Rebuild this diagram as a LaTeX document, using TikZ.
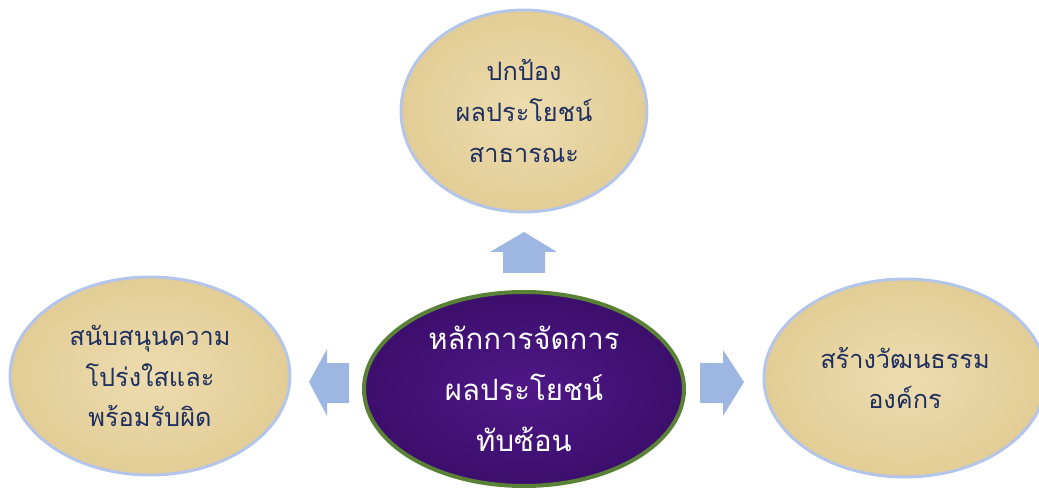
\documentclass[tikz,border=0pt]{standalone}
\usepackage{fontspec}
\newfontfamily\thaifont[Script=Thai]{Loma}
\usetikzlibrary{shapes.geometric}
\definecolor{parch}{HTML}{E3CD96}
\definecolor{parchlight}{HTML}{EDDCAF}
\definecolor{rimblue}{HTML}{B4C5EA}
\definecolor{navy}{HTML}{1F3060}
\definecolor{purp}{HTML}{4E1887}
\definecolor{purpdark}{HTML}{3C0E6C}
\definecolor{rimgreen}{HTML}{5A8236}
\definecolor{arrowblue}{HTML}{9DB7E2}
\tikzset{
  side/.style={ellipse, draw=rimblue, line width=2.2pt, inner color=parchlight, outer color=parch,
    text=navy, align=center, font=\thaifont\fontsize{19}{30.5}\selectfont, inner sep=0pt},
  hub/.style={ellipse, draw=rimgreen, line width=3pt, inner color=purp, outer color=purpdark,
    text=white, align=center, font=\thaifont\fontsize{22}{38}\selectfont, inner sep=0pt},
  blk/.style={fill=arrowblue, draw=none}
}
\begin{document}
\begin{tikzpicture}[x=0.75pt,y=-0.75pt]
\useasboundingbox (0,0) rectangle (1039,488);
\begin{scope}
\clip (0,0) rectangle (1039,488);
\node[side, minimum width=246*0.75pt, minimum height=202*0.75pt] (top) at (524,111) {ปกป้อง\\ผลประโยชน์\\สาธารณะ};
\node[side, minimum width=280*0.75pt, minimum height=198*0.75pt] (left) at (150,376) {สนับสนุนความ\\โปร่งใสและ\\พร้อมรับผิด};
\node[side, minimum width=282*0.75pt, minimum height=198*0.75pt] (right) at (905,378) {สร้างวัฒนธรรม\\องค์กร};
\node[hub, minimum width=320*0.75pt, minimum height=194*0.75pt] (hub) at (524,389) {หลักการจัดการ\\ผลประโยชน์\\ทับซ้อน};
\end{scope}
% block arrows
\coordinate (up) at (524,273);
\fill[blk] (up) ++(-21,0) -- ++(0,-21) -- ++(-13,0) -- ++(34,-20) -- ++(33,20) -- ++(-12,0) -- ++(0,21) -- cycle;
\coordinate (lf) at (349,383);
\fill[blk] (lf) ++(0,-20) -- ++(-22,0) -- ++(0,-14) -- ++(-18,33) -- ++(18,34) -- ++(0,-13) -- ++(22,0) -- cycle;
\coordinate (rt) at (700,383);
\fill[blk] (rt) ++(0,-20) -- ++(23,0) -- ++(0,-13) -- ++(21,32) -- ++(-21,34) -- ++(0,-13) -- ++(-23,0) -- cycle;
\end{tikzpicture}
\end{document}
